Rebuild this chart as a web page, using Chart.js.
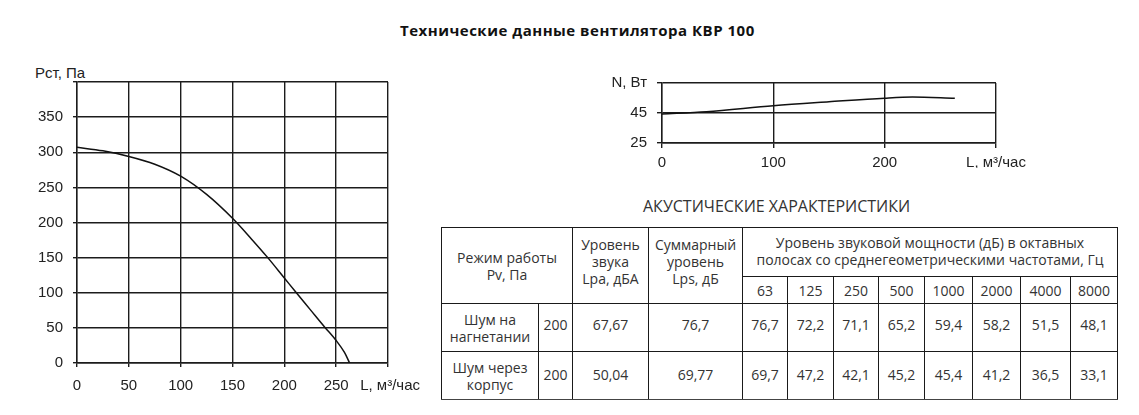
<!DOCTYPE html>
<html lang="ru">
<head>
<meta charset="utf-8">
<script src="https://cdn.jsdelivr.net/npm/chart.js@4/dist/chart.umd.min.js"></script>
<style>
  html, body { margin: 0; padding: 0; background: #fff; }
  body { width: 1139px; height: 415px; position: relative; overflow: hidden; font-family: "Open Sans", sans-serif; }
  .abs { position: absolute; white-space: nowrap; }
  #title { left: 400px; top: 20px; font: bold 15px/20px "Open Sans", sans-serif; letter-spacing: 0.5px; color: #111; }
  #ylabel { left: 35px; top: 65px; font: 15px/15px "Liberation Sans", Arial, sans-serif; color: #222; }
  #acTitle { left: 643px; top: 195px; font: 16px/22px "Open Sans", sans-serif; color: #333; }
  #wrapP { left: 0; top: 50px; width: 440px; height: 350px; }
  #wrapN { left: 590px; top: 70px; width: 450px; height: 100px; }
  table { position: absolute; left: 441px; top: 227px; border-collapse: collapse; table-layout: fixed; width: 676px;
          font: 14px/17px "Open Sans", sans-serif; color: #333; }
  td { border: 1px solid #1a1a1a; text-align: center; vertical-align: middle; padding: 0; }
  tr.last td { border-bottom-color: #444; }
</style>
</head>
<body>
<div id="title" class="abs">Технические данные вентилятора КВР 100</div>
<div id="ylabel" class="abs">Рст, Па</div>
<div id="wrapP" class="abs"><canvas id="cP" width="440" height="350"></canvas></div>
<div id="wrapN" class="abs"><canvas id="cN" width="450" height="100"></canvas></div>
<div id="acTitle" class="abs">АКУСТИЧЕСКИЕ ХАРАКТЕРИСТИКИ</div>
<table id="tbl"></table>
<script>
// ---- Pressure curve (L, м³/час -> Рст, Па)
const pressureFlow = [0, 25, 50, 75, 100, 125, 150, 168, 184, 200, 211, 225, 239, 250, 258, 263];
const pressureVals = [307, 302, 294, 283, 266, 240, 206, 177, 150, 121, 101, 76, 51, 32, 15, 0];
const pressureYTicks = [0, 50, 100, 150, 200, 250, 300, 350, 400];
const pressureXTicks = [0, 50, 100, 150, 200, 250, 300];

// ---- Power curve (L, м³/час -> N, Вт)
const powerFlow = [0, 40, 100, 150, 200, 225, 263];
const powerVals = [44.3, 45.9, 49.9, 52.5, 54.9, 55.6, 54.8];
const powerYTicks = [25, 45, 65];
const powerXTicks = [0, 100, 200, 300];

const xAxisName = 'L, м³/час';
const powerAxisName = 'N, Вт';

// ---- Acoustic table
const acHeadMode = ['Режим работы', 'Pv, Па'];
const acHeadLpa = ['Уровень', 'звука', 'Lpa, дБА'];
const acHeadLps = ['Суммарный', 'уровень', 'Lps, дБ'];
const acHeadBands = ['Уровень звуковой мощности (дБ) в октавных', 'полосах со среднегеометрическими частотами, Гц'];
const acFreqs = ['63', '125', '250', '500', '1000', '2000', '4000', '8000'];
const acRowNames = [['Шум на', 'нагнетании'], ['Шум через', 'корпус']];
const acPv = ['200', '200'];
const acLpa = ['67,67', '50,04'];
const acLps = ['76,7', '69,77'];
const acBandsDischarge = ['76,7', '72,2', '71,1', '65,2', '59,4', '58,2', '51,5', '48,1'];
const acBandsCasing = ['69,7', '47,2', '42,1', '45,2', '45,4', '41,2', '36,5', '33,1'];

const colWidths = [97, 34, 76, 94, 45, 46, 45, 46, 48, 48, 50, 47];
const rowHeights = [49, 27, 48, 48];

// build table
(function () {
  const t = document.getElementById('tbl');
  let h = '<colgroup>' + colWidths.map(w => `<col style="width:${w}px">`).join('') + '</colgroup>';
  h += `<tr style="height:${rowHeights[0]}px">` +
       `<td colspan="2" rowspan="2">${acHeadMode.join('<br>')}</td>` +
       `<td rowspan="2" style="vertical-align:top;padding-top:8px">${acHeadLpa.join('<br>')}</td>` +
       `<td rowspan="2" style="vertical-align:top;padding-top:8px">${acHeadLps.join('<br>')}</td>` +
       `<td colspan="8" style="padding-bottom:2px">${acHeadBands.join('<br>')}</td></tr>`;
  h += `<tr style="height:${rowHeights[1]}px">` + acFreqs.map(f => `<td>${f}</td>`).join('') + '</tr>';
  const bands = [acBandsDischarge, acBandsCasing];
  for (let i = 0; i < 2; i++) {
    const pb = i === 0 ? 'padding-bottom:6px' : 'padding-bottom:3px';
    h += `<tr class="${i === 1 ? 'last' : ''}" style="height:${rowHeights[2 + i]}px">` +
         `<td>${acRowNames[i].join('<br>')}</td>` +
         `<td style="${pb}">${acPv[i]}</td><td style="${pb}">${acLpa[i]}</td><td style="${pb}">${acLps[i]}</td>` +
         bands[i].map(v => `<td style="${pb}">${v}</td>`).join('') + '</tr>';
  }
  t.innerHTML = h;
})();

const tickFont = { family: '"Liberation Sans", Arial, sans-serif', size: 15 };
const lineCol = '#1c1c1c';

function fixBox(dim, val) {
  return function (s) {
    s[dim] = val;
    s.paddingLeft = 0; s.paddingRight = 0; s.paddingTop = 0; s.paddingBottom = 0;
  };
}

// Pressure chart
new Chart(document.getElementById('cP'), {
  type: 'line',
  data: {
    datasets: [{
      data: pressureFlow.map((x, i) => ({ x: x, y: pressureVals[i] })),
      borderColor: '#111', borderWidth: 1.5, pointRadius: 0, fill: false,
      cubicInterpolationMode: 'monotone'
    }]
  },
  options: {
    responsive: false, animation: false, devicePixelRatio: 1,
    layout: { padding: { left: 0, right: 52, top: 32, bottom: 7 } },
    plugins: { legend: { display: false }, tooltip: { enabled: false }, title: { display: false } },
    scales: {
      x: {
        type: 'linear', min: 0, max: 300,
        afterBuildTicks: s => { s.ticks = pressureXTicks.map(v => ({ value: v })); },
        afterFit: fixBox('height', 30),
        ticks: { autoSkip: false, maxRotation: 0, padding: 10, color: '#222', font: tickFont,
                 callback: v => v === 300 ? ' ' + xAxisName : String(v) },
        grid: { color: lineCol, lineWidth: 1.4, tickLength: 4 },
        border: { color: lineCol, width: 1.4 }
      },
      y: {
        type: 'linear', min: 0, max: 400,
        afterBuildTicks: s => { s.ticks = pressureYTicks.map(v => ({ value: v })); },
        afterFit: fixBox('width', 77),
        ticks: { autoSkip: false, padding: 10, color: '#222', font: tickFont,
                 callback: v => v === 400 ? '' : String(v) },
        grid: { color: lineCol, lineWidth: 1.4, tickLength: 4 },
        border: { color: lineCol, width: 1.4 }
      }
    }
  }
});

// Power chart
new Chart(document.getElementById('cN'), {
  type: 'line',
  data: {
    datasets: [{
      data: powerFlow.map((x, i) => ({ x: x, y: powerVals[i] })),
      borderColor: '#111', borderWidth: 1.5, pointRadius: 0, fill: false,
      cubicInterpolationMode: 'monotone'
    }]
  },
  options: {
    responsive: false, animation: false, devicePixelRatio: 1,
    layout: { padding: { left: 0, right: 44, top: 13, bottom: 2 } },
    plugins: { legend: { display: false }, tooltip: { enabled: false }, title: { display: false } },
    scales: {
      x: {
        type: 'linear', min: 0, max: 300,
        afterBuildTicks: s => { s.ticks = powerXTicks.map(v => ({ value: v })); },
        afterFit: fixBox('height', 25),
        ticks: { autoSkip: false, maxRotation: 0, padding: 6, color: '#222', font: tickFont,
                 callback: v => v === 300 ? xAxisName : String(v) },
        grid: { color: lineCol, lineWidth: 1.4, tickLength: 5 },
        border: { color: lineCol, width: 1.4 }
      },
      y: {
        type: 'linear', min: 25, max: 65,
        afterBuildTicks: s => { s.ticks = powerYTicks.map(v => ({ value: v })); },
        afterFit: fixBox('width', 72),
        ticks: { autoSkip: false, padding: 10, color: '#222', font: tickFont,
                 callback: v => v === 65 ? powerAxisName : String(v) },
        grid: { color: lineCol, lineWidth: 1.4, tickLength: 5 },
        border: { color: lineCol, width: 1.4 }
      }
    }
  }
});
</script>
</body>
</html>
